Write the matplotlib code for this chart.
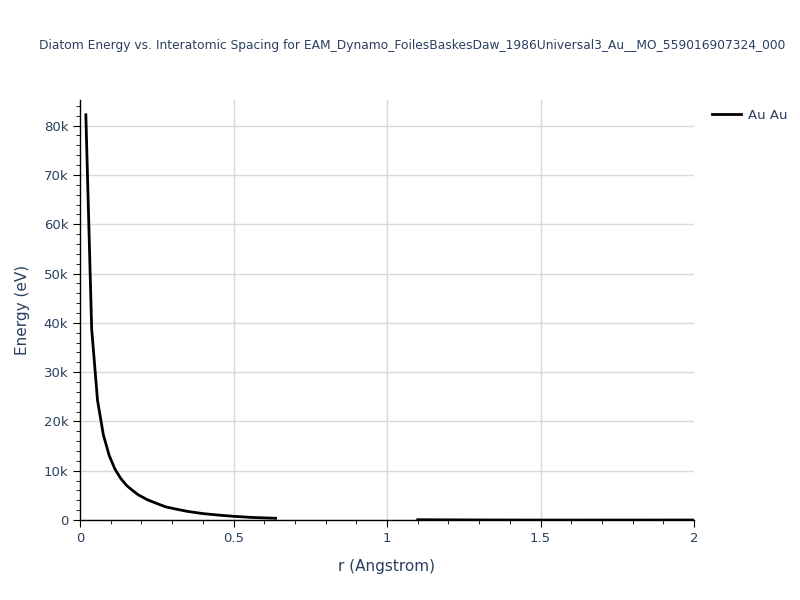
import numpy as np
import matplotlib
matplotlib.use("Agg")
import matplotlib.pyplot as plt
from matplotlib.ticker import MultipleLocator, FuncFormatter

# Data
r_short = [0.019, 0.038, 0.057, 0.076, 0.095, 0.114, 0.133, 0.152, 0.171, 0.19,
           0.22, 0.25, 0.28, 0.31, 0.35, 0.40, 0.45, 0.50, 0.56, 0.637]
e_short = [82200, 38800, 24300, 17300, 13100, 10300, 8400, 7000, 6000, 5100,
           4100, 3350, 2650, 2250, 1750, 1300, 1000, 750, 520, 350]
r_long = [1.1, 1.2, 1.3, 1.4, 1.5, 1.6, 1.7, 1.8, 1.9, 2.0]
e_long = [60, 30, 10, -5, -10, -12, -10, -8, -6, -5]

text_color = "#2a3f5f"
grid_color = "#d9d9d9"

fig = plt.figure(figsize=(8, 6), dpi=100)
ax = fig.add_axes([80 / 800, 1 - 520 / 600, 614 / 800, 420 / 600])

r_all = r_short + [np.nan] + r_long
e_all = e_short + [np.nan] + e_long
ax.plot(r_all, e_all, color="black", linewidth=2, label="Au Au")

ax.set_xlim(0, 2)
ax.set_ylim(0, 85200)
ax.xaxis.set_major_locator(MultipleLocator(0.5))
ax.xaxis.set_minor_locator(MultipleLocator(0.1))
ax.yaxis.set_major_locator(MultipleLocator(10000))
ax.yaxis.set_minor_locator(MultipleLocator(2000))
ax.xaxis.set_major_formatter(FuncFormatter(lambda v, p: "0" if v == 0 else ("%g" % v)))
ax.yaxis.set_major_formatter(FuncFormatter(lambda v, p: "0" if v == 0 else "%dk" % (v / 1000)))

# grid lines, drawn by hand so none sits on the right edge
ax.grid(True, axis="y", which="major", color=grid_color, linewidth=1)
for xv in [0.5, 1.0, 1.5]:
    ax.axvline(xv, color=grid_color, linewidth=1, zorder=0)
ax.set_axisbelow(True)
for s in ["top", "right"]:
    ax.spines[s].set_visible(False)
for s in ["left", "bottom"]:
    ax.spines[s].set_color("black")
    ax.spines[s].set_linewidth(1)

ax.tick_params(which="both", direction="out", colors="black", labelcolor=text_color, labelsize=9.5)
ax.tick_params(which="major", length=5)
ax.tick_params(which="minor", length=3)

ax.set_xlabel("r (Angstrom)", fontsize=11, color=text_color, labelpad=10)
ax.set_ylabel("Energy (eV)", fontsize=11, color=text_color, labelpad=10)

fig.text(0.515, 1 - 45 / 600,
         "Diatom Energy vs. Interatomic Spacing for EAM_Dynamo_FoilesBaskesDaw_1986Universal3_Au__MO_559016907324_000",
         ha="center", va="center", fontsize=8.8, color=text_color)

leg = ax.legend(loc="upper left", bbox_to_anchor=(1.01, 1.008), frameon=False, fontsize=9.5,
                handlelength=2.2, handletextpad=0.5)
for t in leg.get_texts():
    t.set_color(text_color)

fig.savefig("out.png", dpi=100)
